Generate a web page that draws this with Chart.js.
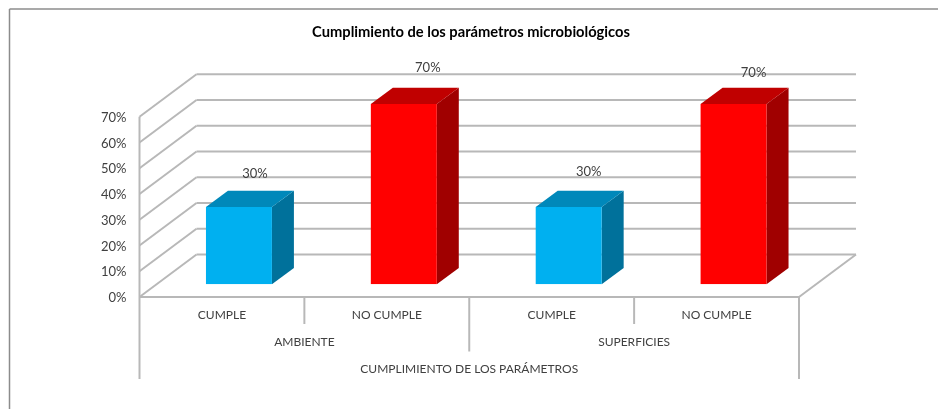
<!DOCTYPE html>
<html>
<head>
<meta charset="utf-8">
<title>Cumplimiento de los parámetros microbiológicos</title>
<script src="https://cdn.jsdelivr.net/npm/chart.js@4"></script>
<style>
  html, body { margin: 0; padding: 0; background: #fff; }
  #wrap { width: 938px; height: 409px; }
</style>
</head>
<body>
<div id="wrap"><canvas id="chart" width="938" height="409"></canvas></div>
<script>
const chartTitle = 'Cumplimiento de los parámetros microbiológicos';
const categories = ['CUMPLE', 'NO CUMPLE', 'CUMPLE', 'NO CUMPLE'];
const groups = ['AMBIENTE', 'SUPERFICIES'];
const axisTitle = 'CUMPLIMIENTO DE LOS PARÁMETROS';
const values = [30, 70, 30, 70];
const yTicks = [0, 10, 20, 30, 40, 50, 60, 70];

const frontColors = ['#00B0F0', '#FF0000', '#00B0F0', '#FF0000'];
const topColors = ['#0088BA', '#C00000', '#0088BA', '#C00000'];
const sideColors = ['#00719B', '#A00000', '#00719B', '#A00000'];

const FONT = 'Lato, Carlito, sans-serif';
const TEXT = '#404040';
const GRID = '#b8b8b8';

// depth of the walls and of the bars, in pixels
const wallDx = 57, wallDy = -42.5;
const barDx = 22, barDy = -16.3;
const barShiftX = 17, barShiftY = -12.7;
// data labels do not sit at the same height above each bar in the original
const labelShift = [[16, -33], [24, -36], [20, -35], [20, -31]];

function line(ctx, x1, y1, x2, y2) {
    ctx.beginPath();
    ctx.moveTo(x1, y1);
    ctx.lineTo(x2, y2);
    ctx.stroke();
}

function poly(ctx, pts, color) {
    ctx.fillStyle = color;
    ctx.beginPath();
    pts.forEach((p, i) => i ? ctx.lineTo(p[0], p[1]) : ctx.moveTo(p[0], p[1]));
    ctx.closePath();
    ctx.fill();
}

const box3d = {
    id: 'box3d',
    beforeDraw(chart) {
        const ctx = chart.ctx;
        const { x: xs, y: ys } = chart.scales;
        const left = xs.left, right = xs.right;
        const step = (right - left) / categories.length;
        const y0 = ys.getPixelForValue(0);

        // picture frame
        ctx.save();
        ctx.strokeStyle = '#8c8c8c';
        ctx.lineWidth = 1.5;
        line(ctx, 9.5, 9, 938, 9);
        line(ctx, 9.5, 9, 9.5, 409);
        ctx.restore();

        // title, centred on the whole picture and not on the plot
        ctx.save();
        ctx.fillStyle = '#000';
        ctx.font = 'bold 14.7px ' + FONT;
        ctx.textAlign = 'center';
        ctx.textBaseline = 'middle';
        ctx.fillText(chartTitle, 471, 32);
        ctx.restore();

        ctx.save();
        ctx.strokeStyle = GRID;
        ctx.lineWidth = 2;
        // back wall, side wall
        yTicks.forEach(t => {
            const y = ys.getPixelForValue(t);
            line(ctx, left, y, left + wallDx, y + wallDy);
            line(ctx, left + wallDx, y + wallDy, right + wallDx, y + wallDy);
        });
        line(ctx, left, ys.getPixelForValue(yTicks[yTicks.length - 1]), left, y0);
        // floor edge and front axis
        line(ctx, right, y0, right + wallDx, y0 + wallDy);
        line(ctx, left, y0, right, y0);

        // multi level axis separators
        const sepBottom = [379, 324, 351.5, 324, 379];
        sepBottom.forEach((b, i) => line(ctx, left + i * step, y0, left + i * step, b));
        ctx.restore();
    },
    beforeDatasetsDraw(chart) {
        const ctx = chart.ctx;
        const bars = chart.getDatasetMeta(0).data;
        ctx.save();
        ctx.translate(barShiftX, barShiftY);
        bars.forEach((b, i) => {
            const l = b.x - b.width / 2, r = b.x + b.width / 2;
            poly(ctx, [[r, b.y], [r + barDx, b.y + barDy], [r + barDx, b.base + barDy], [r, b.base]], sideColors[i]);
            poly(ctx, [[l, b.y], [l + barDx, b.y + barDy], [r + barDx, b.y + barDy], [r, b.y]], topColors[i]);
        });
    },
    afterDatasetsDraw(chart) {
        const ctx = chart.ctx;
        const bars = chart.getDatasetMeta(0).data;
        ctx.restore();

        ctx.save();
        ctx.fillStyle = TEXT;
        ctx.font = '13px ' + FONT;
        ctx.textAlign = 'center';
        ctx.textBaseline = 'middle';
        // data labels
        bars.forEach((b, i) => {
            ctx.fillText(values[i] + '%', b.x + barShiftX + labelShift[i][0], b.y + barShiftY + labelShift[i][1]);
        });
        // second and third level of the category axis
        const xs = chart.scales.x;
        const step = (xs.right - xs.left) / categories.length;
        ctx.font = '12px ' + FONT;
        groups.forEach((g, i) => ctx.fillText(g, xs.left + step * (2 * i + 1), 342));
        ctx.fillText(axisTitle, xs.left + step * 2, 369.5);
        ctx.restore();
    }
};

new Chart(document.getElementById('chart'), {
    type: 'bar',
    data: {
        labels: categories,
        datasets: [{
            data: values,
            backgroundColor: frontColors,
            barPercentage: 0.4,
            categoryPercentage: 1
        }]
    },
    options: {
        responsive: false,
        animation: false,
        layout: { padding: { left: 0, right: 139, top: 116.7, bottom: 0 } },
        plugins: {
            legend: { display: false },
            tooltip: { enabled: false },
            title: { display: false }
        },
        scales: {
            x: {
                grid: { display: false },
                border: { display: false },
                ticks: { color: TEXT, font: { family: FONT, size: 12 }, padding: 3, maxRotation: 0 },
                afterFit(scale) { scale.height = 112; }
            },
            y: {
                min: 0,
                max: 70,
                grid: { display: false },
                border: { display: false },
                afterBuildTicks(scale) { scale.ticks = yTicks.map(v => ({ value: v })); },
                afterFit(scale) { scale.width = 139.5; },
                ticks: {
                    color: TEXT,
                    font: { family: FONT, size: 13 },
                    padding: 5,
                    labelOffset: 1,
                    callback: v => v + '%'
                }
            }
        }
    },
    plugins: [box3d]
});
</script>
</body>
</html>
